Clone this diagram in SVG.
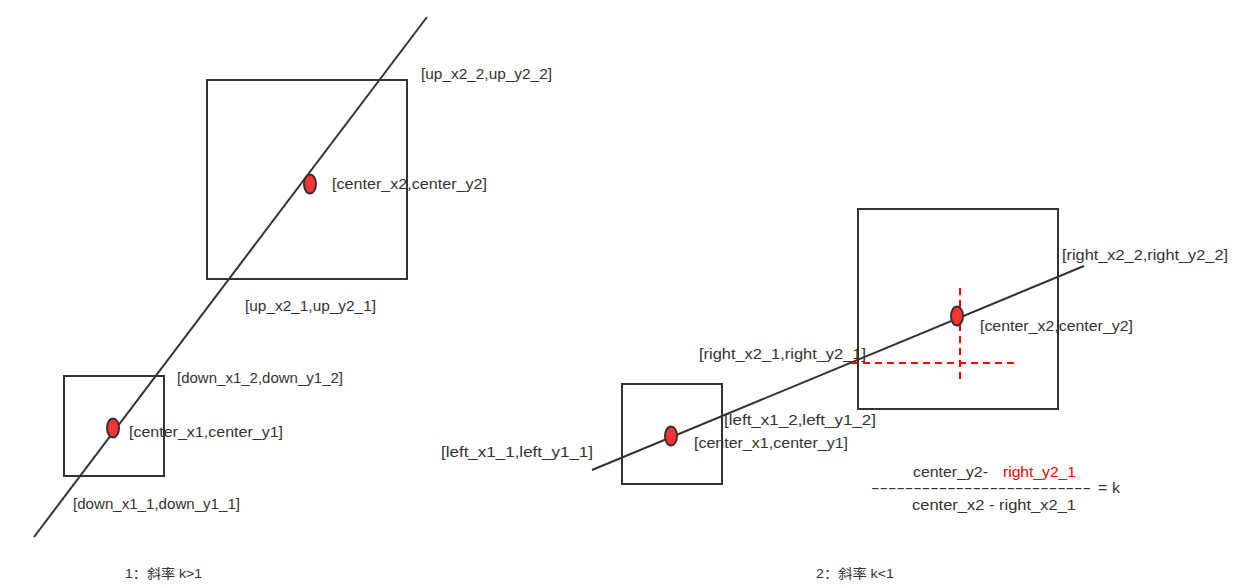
<svg xmlns="http://www.w3.org/2000/svg" width="1243" height="587" viewBox="0 0 1243 587">
<style>
.box{fill:none;stroke:#333;stroke-width:2}
.ln{stroke:#333;stroke-width:2;fill:none}
.dot{fill:#ff3333;stroke:#333;stroke-width:2}
.rd{stroke:#ff0000;stroke-width:2;stroke-dasharray:7 5;fill:none}
text{font-family:"Liberation Sans","Noto Sans CJK SC",sans-serif;font-size:14px;fill:#333}
.cap{font-size:13px}
.red{fill:#ff0000}
</style>
<rect width="1243" height="587" fill="#fff"/>
<g id="connectors">
<line class="ln" x1="427" y1="17" x2="34" y2="537"/>
<line class="ln" x1="592" y1="470" x2="1084" y2="266"/>
<line class="rd" x1="960" y1="288" x2="960" y2="379"/>
<line class="rd" x1="851" y1="363" x2="1014" y2="363"/>
</g>
<g id="box-up"><rect class="box" x="207" y="80" width="200" height="199"/></g>
<g id="box-down"><rect class="box" x="64" y="376" width="100" height="100"/></g>
<g id="box-left"><rect class="box" x="622" y="384" width="100" height="100"/></g>
<g id="box-right"><rect class="box" x="858" y="209" width="200" height="200"/></g>
<g id="dot-c2-left"><ellipse class="dot" cx="310" cy="184" rx="6" ry="9.5"/></g>
<g id="dot-c1-left"><ellipse class="dot" cx="113" cy="428" rx="6" ry="9.5"/></g>
<g id="dot-c1-right"><ellipse class="dot" cx="671" cy="436" rx="6" ry="9.5"/></g>
<g id="dot-c2-right"><ellipse class="dot" cx="957" cy="316" rx="6" ry="9.5"/></g>
<g id="labels">
<text x="421" y="79" textLength="131" lengthAdjust="spacingAndGlyphs">[up_x2_2,up_y2_2]</text>
<text x="332" y="189" textLength="155" lengthAdjust="spacingAndGlyphs">[center_x2,center_y2]</text>
<text x="245" y="311" textLength="131" lengthAdjust="spacingAndGlyphs">[up_x2_1,up_y2_1]</text>
<text x="177" y="383" textLength="166" lengthAdjust="spacingAndGlyphs">[down_x1_2,down_y1_2]</text>
<text x="129" y="437" textLength="154" lengthAdjust="spacingAndGlyphs">[center_x1,center_y1]</text>
<text x="73" y="509" textLength="167" lengthAdjust="spacingAndGlyphs">[down_x1_1,down_y1_1]</text>
<text class="cap" x="125" y="578" textLength="77" lengthAdjust="spacingAndGlyphs">1：斜率 k&gt;1</text>
<text x="1062" y="260" textLength="166" lengthAdjust="spacingAndGlyphs">[right_x2_2,right_y2_2]</text>
<text x="980" y="331" textLength="153" lengthAdjust="spacingAndGlyphs">[center_x2,center_y2]</text>
<text x="699" y="359" textLength="167" lengthAdjust="spacingAndGlyphs">[right_x2_1,right_y2_1]</text>
<text x="724" y="425" textLength="152" lengthAdjust="spacingAndGlyphs">[left_x1_2,left_y1_2]</text>
<text x="694" y="448" textLength="154" lengthAdjust="spacingAndGlyphs">[center_x1,center_y1]</text>
<text x="441" y="457" textLength="152" lengthAdjust="spacingAndGlyphs">[left_x1_1,left_y1_1]</text>
<text x="913" y="477" textLength="75" lengthAdjust="spacingAndGlyphs">center_y2-</text>
<text class="red" x="1003" y="477" textLength="73" lengthAdjust="spacingAndGlyphs">right_y2_1</text>
<text x="871" y="493" textLength="220" lengthAdjust="spacingAndGlyphs">--------------------------</text>
<text x="1098" y="493" textLength="22" lengthAdjust="spacingAndGlyphs">= k</text>
<text x="912" y="510" textLength="164" lengthAdjust="spacingAndGlyphs">center_x2 - right_x2_1</text>
<text class="cap" x="816" y="578" textLength="78" lengthAdjust="spacingAndGlyphs">2：斜率 k&lt;1</text>
</g>
</svg>
